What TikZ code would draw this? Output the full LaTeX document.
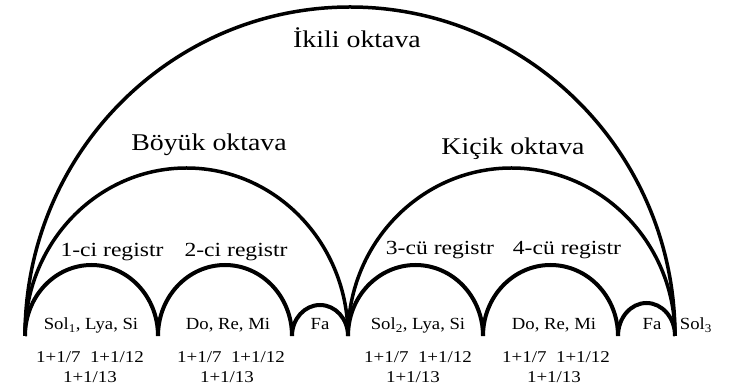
\documentclass[tikz,border=0pt]{standalone}
\usepackage{fontspec}
\usepackage{graphicx}
\setmainfont{Liberation Serif}
\newcommand\hsc[2]{\scalebox{#1}[1]{#2}}
\begin{document}
\begin{tikzpicture}[x=1pt,y=1pt,
  arcline/.style={line width=4pt, line cap=butt},
  bigarc/.style={line width=3.5pt, line cap=butt},
  big/.style={font=\fontsize{24}{26}\selectfont, inner sep=0pt, anchor=base},
  mid/.style={font=\fontsize{20}{22}\selectfont, inner sep=0pt, anchor=base},
  small/.style={font=\fontsize{17}{19}\selectfont, inner sep=0pt, anchor=base},
  frac/.style={font=\fontsize{16.5}{18}\selectfont, inner sep=0pt, anchor=base}]
\useasboundingbox (0,0) rectangle (730,390);
% feet of the arcs
\coordinate (p0) at (25,54);
\coordinate (p1) at (158,54);
\coordinate (p2) at (292,54);
\coordinate (p3) at (348,54);
\coordinate (p4) at (483,54);
\coordinate (p5) at (618,54);
\coordinate (p6) at (675,54);
% large arcs
\draw[bigarc] (p0) arc[start angle=180,end angle=0,x radius=325,y radius=329];
\draw[bigarc] (p0) arc[start angle=180,end angle=0,x radius=161.5,y radius=168];
\draw[bigarc] (p3) arc[start angle=180,end angle=0,x radius=163.5,y radius=168];
% register arcs
\draw[arcline] (p0) arc[start angle=180,end angle=0,x radius=66.5,y radius=71];
\draw[arcline] (p1) arc[start angle=180,end angle=0,x radius=67,y radius=71];
\draw[arcline] (p2) arc[start angle=180,end angle=0,x radius=28,y radius=31];
\draw[arcline] (p3) arc[start angle=180,end angle=0,x radius=67.5,y radius=71];
\draw[arcline] (p4) arc[start angle=180,end angle=0,x radius=67.5,y radius=71];
\draw[arcline] (p5) arc[start angle=180,end angle=0,x radius=28.5,y radius=33];
% titles
\node[big] (ikili) at (357,342) {\hsc{1.16}{İkili oktava}};
\node[big] (boyuk) at (209,239) {\hsc{1.16}{Böyük oktava}};
\node[big] (kicik) at (513,235) {\hsc{1.16}{Kiçik oktava}};
\node[mid] (r1) at (112,133) {\hsc{1.18}{1-ci registr}};
\node[mid] (r2) at (236,133) {\hsc{1.18}{2-ci registr}};
\node[mid] (r3) at (440,135) {\hsc{1.18}{3-cü registr}};
\node[mid] (r4) at (567,135) {\hsc{1.18}{4-cü registr}};
% notes
\node[small] (n1) at (91,60) {\hsc{1.1}{Sol\textsubscript{1}, Lya, Si}};
\node[small] (n2) at (228,60) {\hsc{1.1}{Do, Re, Mi}};
\node[small] (n3) at (320,60) {\hsc{1.1}{Fa}};
\node[small] (n4) at (418,60) {\hsc{1.1}{Sol\textsubscript{2}, Lya, Si}};
\node[small] (n5) at (554,60) {\hsc{1.1}{Do, Re, Mi}};
\node[small] (n6) at (652,60) {\hsc{1.1}{Fa}};
\node[small] (n7) at (696,60) {\hsc{1.1}{Sol\textsubscript{3}}};
% ratios
\node[frac] (f1a) at (90,27) {\hsc{1.15}{1+1/7\ \ 1+1/12}};
\node[frac] (f1b) at (90,7) {\hsc{1.15}{1+1/13}};
\node[frac] (f2a) at (231,27) {\hsc{1.15}{1+1/7\ \ 1+1/12}};
\node[frac] (f2b) at (227,7) {\hsc{1.15}{1+1/13}};
\node[frac] (f3a) at (418,27) {\hsc{1.15}{1+1/7\ \ 1+1/12}};
\node[frac] (f3b) at (413,7) {\hsc{1.15}{1+1/13}};
\node[frac] (f4a) at (556,27) {\hsc{1.15}{1+1/7\ \ 1+1/12}};
\node[frac] (f4b) at (554,7) {\hsc{1.15}{1+1/13}};
\end{tikzpicture}
\end{document}
